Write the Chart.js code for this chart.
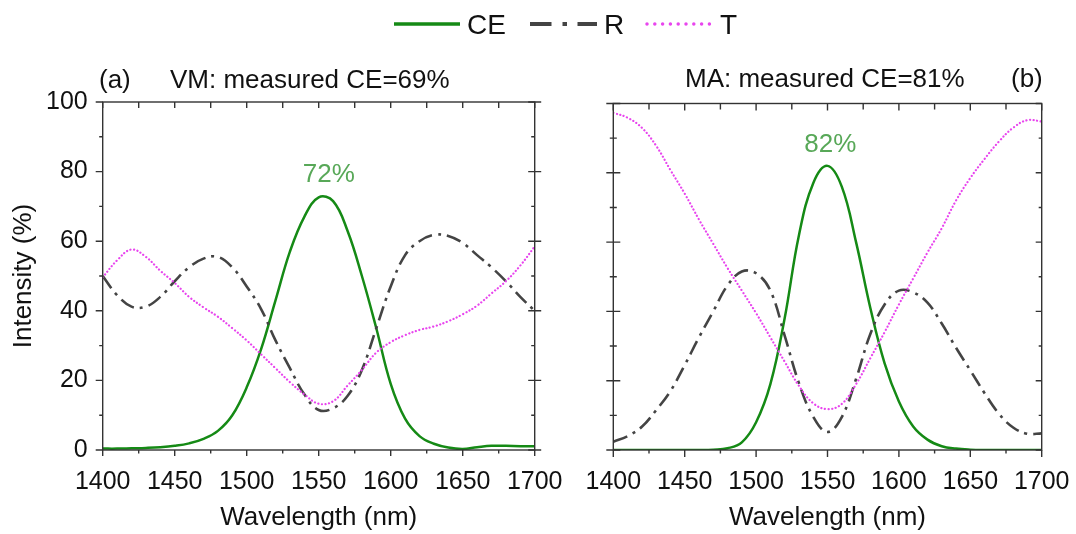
<!DOCTYPE html>
<html>
<head>
<meta charset="utf-8">
<script src="https://cdn.jsdelivr.net/npm/chart.js@4.4.0/dist/chart.umd.min.js"></script>
<style>
  body { margin: 0; background: #fff; }
  #wrap { position: relative; width: 1076px; height: 534px; font-family: "Liberation Sans", Arial, sans-serif; }
  #wrap canvas { position: absolute; top: 0; }
  #left { left: 0; }
  #right { left: 574px; }
  #overlay { position: absolute; left: 0; top: 0; pointer-events: none; }
</style>
</head>
<body>
<div id="wrap">
  <canvas id="left" width="574" height="534"></canvas>
  <canvas id="right" width="502" height="534"></canvas>
  <svg id="overlay" width="1076" height="534" font-family="Liberation Sans, Arial, sans-serif" fill="#111">
    <!-- legend -->
    <line x1="394" y1="24" x2="460" y2="24" stroke="#158a15" stroke-width="3.5" />
    <text x="467" y="34.3" font-size="28">CE</text>
    <line x1="530" y1="24" x2="597" y2="24" stroke="#444" stroke-width="4" stroke-dasharray="21.5 11 4.5 10.5 30" />
    <text x="604" y="34.3" font-size="28">R</text>
    <line x1="647" y1="24" x2="711" y2="24" stroke="#e845ee" stroke-width="3.5" stroke-linecap="round" stroke-dasharray="0 7.8" />
    <text x="720" y="34.3" font-size="28">T</text>
    <!-- panel titles -->
    <text x="99" y="88" font-size="26">(a)</text>
    <text x="170" y="88" font-size="26">VM: measured CE=69%</text>
    <text x="685" y="86.7" font-size="26">MA: measured CE=81%</text>
    <text x="1011" y="86.7" font-size="26">(b)</text>
  </svg>
</div>
<script>
// wavelength grid (nm)
const wavelength = [1400, 1410, 1420, 1430, 1440, 1450, 1460, 1470, 1480, 1490,
  1500, 1510, 1520, 1530, 1540, 1550, 1560, 1570, 1580, 1590,
  1600, 1610, 1620, 1630, 1640, 1650, 1660, 1670, 1680, 1690, 1700];

// (a) VM
const vmCE = [0.4, 0.4, 0.5, 0.6, 0.8, 1.2, 1.9, 3.2, 5.5, 10,
  18, 29, 43, 57, 67, 72.6, 71.5, 63, 50, 35,
  19, 9, 4, 1.8, 0.7, 0.3, 0.8, 1.2, 1.2, 1.1, 1.1];
const vmR = [50, 44.5, 41.2, 41.2, 44, 48.5, 52.5, 55, 55.5, 52.5,
  47, 40.5, 31.5, 23.5, 16, 11.5, 12, 15.5, 23, 35,
  47, 56, 60, 61.8, 61.5, 59.5, 56, 52.5, 48.5, 44, 40];
const vmT = [49.6, 54.5, 57.6, 55.5, 51.5, 48, 44, 41, 38.3, 35,
  31.5, 27.5, 23.5, 19.5, 16, 13.3, 14, 18.5, 23, 28,
  31, 33, 34.5, 35.5, 37, 39, 41.5, 45, 48.5, 53, 58.5];

// (b) MA
const maCE = [0, 0, 0, 0, 0, 0, 0, 0.1, 0.5, 2.2,
  8, 19, 38, 62, 77, 82, 76, 60, 41, 25,
  14, 6.8, 3, 1.1, 0.4, 0.1, 0, 0, 0, 0, 0];
const maR = [2.4, 4, 6.7, 11.5, 17, 24.5, 32.5, 40, 47.5, 51.5,
  51, 46, 33, 19.3, 9.6, 5.2, 9.5, 20.5, 33.5, 42,
  46, 45.5, 42.5, 36.5, 29.5, 23, 16.4, 10.5, 6.5, 4.7, 4.8];
const maT = [97.3, 95.9, 93, 87.8, 80.8, 74, 66.5, 59.5, 52.5, 46,
  39.5, 32.5, 25.5, 18.5, 13.5, 11.8, 13.3, 19, 26.5, 34,
  42, 49.5, 57, 64, 72, 78.5, 84, 89, 93, 95.2, 94.8];

// ticks
const xMajor = [1400, 1450, 1500, 1550, 1600, 1650, 1700];
const xMinor = [1425, 1475, 1525, 1575, 1625, 1675];
const yMajor = [0, 20, 40, 60, 80, 100];
const yMinor = [10, 30, 50, 70, 90];

// simulated CE peak labels
const peakA = { x: 1557, y: 77, text: "72%" };
const peakB = { x: 1552, y: 86, text: "82%" };

Chart.defaults.font.family = "'Liberation Sans', Arial, sans-serif";
Chart.defaults.color = "#111";

const axisColor = "#333";

// box frame + tick marks + peak label
const framePlugin = {
  id: "frame",
  afterDraw(chart, args, opts) {
    const { ctx, chartArea: a } = chart;
    const sx = chart.scales.x, sy = chart.scales.y;
    ctx.save();
    ctx.strokeStyle = axisColor;
    ctx.lineWidth = 1.4;
    ctx.strokeRect(a.left, a.top, a.right - a.left, a.bottom - a.top);

    ctx.beginPath();
    const mark = (side, p, len) => {
      const inn = len[0], out = len[1];
      if (side === "left") { ctx.moveTo(a.left + inn, p); ctx.lineTo(a.left - out, p); }
      if (side === "right") { ctx.moveTo(a.right - inn, p); ctx.lineTo(a.right + out, p); }
      if (side === "top") { ctx.moveTo(p, a.top + inn); ctx.lineTo(p, a.top - out); }
      if (side === "bottom") { ctx.moveTo(p, a.bottom - inn); ctx.lineTo(p, a.bottom + out); }
    };
    for (const side of ["left", "right", "top", "bottom"]) {
      const t = opts.ticks[side];
      const horiz = side === "top" || side === "bottom";
      const major = horiz ? xMajor : yMajor;
      const minor = horiz ? xMinor : yMinor;
      const scale = horiz ? sx : sy;
      major.forEach(v => mark(side, scale.getPixelForValue(v), t.major));
      minor.forEach(v => mark(side, scale.getPixelForValue(v), t.minor));
    }
    ctx.stroke();

    const n = opts.note;
    ctx.fillStyle = "#58a858";
    ctx.font = "26px 'Liberation Sans', Arial, sans-serif";
    ctx.textAlign = "center";
    ctx.textBaseline = "alphabetic";
    ctx.fillText(n.text, sx.getPixelForValue(n.x), sy.getPixelForValue(n.y));
    ctx.restore();
  }
};

function series(values) {
  return wavelength.map((w, i) => ({ x: w, y: values[i] }));
}

function makePanel(id, ce, r, t, cfg) {
  return new Chart(document.getElementById(id), {
    type: "line",
    data: {
      datasets: [
        {
          label: "T",
          data: series(t),
          borderColor: "#e845ee",
          borderWidth: 2.2,
          borderDash: [0.1, 3.5],
          borderCapStyle: "round",
          pointRadius: 0,
          tension: 0.4,
        },
        {
          label: "R",
          data: series(r),
          borderColor: "#444",
          borderWidth: 2.6,
          borderDash: [15, 6, 3, 6],
          pointRadius: 0,
          tension: 0.4,
        },
        {
          label: "CE",
          data: series(ce),
          borderColor: "#158a15",
          borderWidth: 2.5,
          pointRadius: 0,
          tension: 0.4,
        },
      ],
    },
    options: {
      responsive: false,
      animation: false,
      layout: { padding: { top: cfg.top, right: cfg.right, left: 0, bottom: 0 } },
      scales: {
        x: {
          type: "linear",
          min: 1400,
          max: 1700,
          afterBuildTicks: s => { s.ticks = xMajor.map(v => ({ value: v })); },
          afterFit: s => {
            s.height = 84;
            s.paddingLeft = 0;
            s.paddingRight = 0;
          },
          grid: { display: false, drawTicks: false },
          border: { display: false },
          ticks: {
            font: { size: 25 },
            padding: 17,
            maxRotation: 0,
            color: "#111",
            callback: v => String(v),
          },
          title: {
            display: true,
            text: "Wavelength (nm)",
            font: { size: 26 },
            color: "#111",
            padding: { top: 0, bottom: 1 },
          },
        },
        y: {
          min: 0,
          max: 100,
          afterBuildTicks: s => { s.ticks = yMajor.map(v => ({ value: v })); },
          afterFit: s => { s.width = cfg.yWidth; },
          grid: { display: false, drawTicks: false },
          border: { display: false },
          ticks: { display: cfg.yLabels, font: { size: 25 }, padding: 15, color: "#111" },
          title: {
            display: cfg.yLabels,
            text: "Intensity (%)",
            font: { size: 26 },
            color: "#111",
            padding: { top: 8, bottom: 0 },
          },
        },
      },
      plugins: {
        legend: { display: false },
        tooltip: { enabled: false },
        frame: { ticks: cfg.ticks, note: cfg.note },
      },
    },
    plugins: [framePlugin],
  });
}

makePanel("left", vmCE, vmR, vmT, {
  top: 102,
  right: 39.3,
  yWidth: 102.7,
  yLabels: true,
  note: peakA,
  ticks: {
    left: { major: [0, 7], minor: [0, 3.5] },
    right: { major: [6.5, 6.5], minor: [3.5, 0] },
    top: { major: [6, 0], minor: [6, 0] },
    bottom: { major: [0, 6], minor: [0, 3.5] },
  },
});

makePanel("right", maCE, maR, maT, {
  top: 103.5,
  right: 34.3,
  yWidth: 39.3,
  yLabels: false,
  note: peakB,
  ticks: {
    left: { major: [7, 7], minor: [3.5, 3.5] },
    right: { major: [6, 0], minor: [3, 0] },
    top: { major: [7, 0], minor: [6, 0] },
    bottom: { major: [0, 7], minor: [0, 3.5] },
  },
});
</script>
</body>
</html>
